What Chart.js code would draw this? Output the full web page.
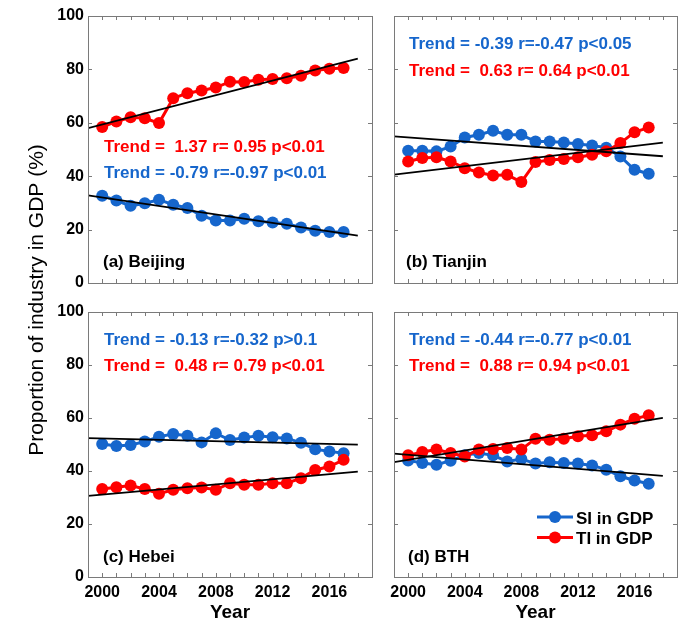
<!DOCTYPE html>
<html>
<head>
<meta charset="utf-8">
<script src="https://cdn.jsdelivr.net/npm/chart.js@4.4.1/dist/chart.umd.min.js"></script>
<style>
  html, body { margin: 0; padding: 0; background: #fff; }
  #wrap { position: relative; width: 684px; height: 621px; }
  #wrap canvas { position: absolute; left: 0; top: 0; }
</style>
</head>
<body>
<div id="wrap">
  <canvas id="pa" width="684" height="621"></canvas>
  <canvas id="pb" width="684" height="621"></canvas>
  <canvas id="pc" width="684" height="621"></canvas>
  <canvas id="pd" width="684" height="621"></canvas>
</div>
<script>
// Shares of secondary (SI) and tertiary (TI) industry in GDP, 2000-2017
const years = [2000, 2001, 2002, 2003, 2004, 2005, 2006, 2007, 2008,
               2009, 2010, 2011, 2012, 2013, 2014, 2015, 2016, 2017];

const beijingSI = [32.7, 30.9, 28.9, 29.9, 31.2, 29.3, 28.1, 25.2, 23.4, 23.4, 24.1, 23.1, 22.7, 22.2, 20.8, 19.6, 19.1, 19.1];
const beijingTI = [58.4, 60.5, 62.1, 61.7, 59.9, 69.2, 71.1, 72.1, 73.2, 75.4, 75.3, 76.1, 76.4, 76.7, 77.6, 79.6, 80.2, 80.5];

const tianjinSI = [49.5, 49.5, 49.3, 51.1, 54.5, 55.5, 57.0, 55.5, 55.5, 53.0, 53.0, 52.6, 52.1, 51.5, 50.7, 47.4, 42.4, 40.9];
const tianjinTI = [45.5, 46.8, 47.1, 45.5, 43.0, 41.4, 40.3, 40.5, 37.8, 45.3, 46.1, 46.4, 47.1, 48.0, 49.3, 52.4, 56.5, 58.2];

const hebeiSI = [50.2, 49.4, 49.8, 51.1, 52.9, 54.0, 53.3, 50.8, 54.2, 51.7, 52.6, 53.3, 52.7, 52.3, 50.7, 48.2, 47.4, 46.7];
const hebeiTI = [33.2, 33.9, 34.5, 33.2, 31.4, 32.9, 33.5, 33.8, 32.9, 35.4, 34.8, 34.8, 35.4, 35.4, 37.3, 40.4, 41.7, 44.2];

const bthSI = [44.0, 43.0, 42.4, 43.9, 45.9, 46.8, 45.9, 43.6, 44.5, 42.8, 43.3, 43.0, 42.8, 42.1, 40.5, 38.0, 36.4, 35.2];
const bthTI = [45.9, 47.2, 48.1, 46.8, 45.5, 48.1, 48.3, 48.7, 48.1, 52.2, 51.8, 52.2, 53.1, 53.5, 55.0, 57.5, 59.7, 61.0];

// Linear trend statistics: [slope per year, r, p-text, fitted value at 2000]
const beijingTrendSI = [-0.79, -0.97, 'p<0.01', 32.0];
const beijingTrendTI = [ 1.37,  0.95, 'p<0.01', 59.4];
const tianjinTrendSI = [-0.39, -0.47, 'p<0.05', 54.5];
const tianjinTrendTI = [ 0.63,  0.64, 'p<0.01', 41.2];
const hebeiTrendSI   = [-0.13, -0.32, 'p>0.1',  52.3];
const hebeiTrendTI   = [ 0.48,  0.79, 'p<0.01', 31.1];
const bthTrendSI     = [-0.44, -0.77, 'p<0.01', 46.1];
const bthTrendTI     = [ 0.88,  0.94, 'p<0.01', 44.2];

const xLabelYears = [2000, 2004, 2008, 2012, 2016];
const xMinorYears = [2000, 2001, 2002, 2003, 2004, 2005, 2006, 2007, 2008, 2009,
                     2010, 2011, 2012, 2013, 2014, 2015, 2016, 2017, 2018];
const yTicks = [0, 20, 40, 60, 80, 100];

const seriesNames = ['SI in GDP', 'TI in GDP'];
const yTitle = 'Proportion of industry in GDP (%)';
const xTitle = 'Year';

const BLUE = 'rgb(22,102,204)';
const RED = 'rgb(255,0,0)';
const FRAME = '#7a7a7a';
const FONT = "'Liberation Sans', Arial, Helvetica, sans-serif";

Chart.defaults.font.family = FONT;
Chart.defaults.color = '#000';

function num(v) {
  return v < 0 ? v.toFixed(2) : ' ' + v.toFixed(2);
}
function trendText(t) {
  return 'Trend = ' + num(t[0]) + ' r=' + num(t[1]) + ' ' + t[2];
}
// straight fitted line across the axis span
function trendLine(t) {
  return [1999, 2018].map(x => ({ x: x, y: t[3] + t[0] * (x - 2000) }));
}

// frame + inward tick marks on all four sides
const framePlugin = {
  id: 'frame',
  afterDraw(chart) {
    const { ctx, chartArea: a, scales } = chart;
    ctx.save();
    ctx.strokeStyle = FRAME;
    ctx.lineWidth = 1;
    ctx.strokeRect(Math.round(a.left) + 0.5, Math.round(a.top) + 0.5,
                   Math.round(a.right - a.left), Math.round(a.bottom - a.top));
    ctx.beginPath();
    const tl = 4;
    xMinorYears.forEach(v => {
      const px = Math.round(scales.x.getPixelForValue(v)) + 0.5;
      ctx.moveTo(px, a.bottom); ctx.lineTo(px, a.bottom - tl);
      ctx.moveTo(px, a.top); ctx.lineTo(px, a.top + tl);
    });
    yTicks.slice(1, -1).forEach(v => {
      const py = Math.round(scales.y.getPixelForValue(v)) + 0.5;
      ctx.moveTo(a.left, py); ctx.lineTo(a.left + tl, py);
      ctx.moveTo(a.right, py); ctx.lineTo(a.right - tl, py);
    });
    ctx.stroke();
    ctx.restore();
  }
};

// annotations, panel caption, legend and shared y title
const textPlugin = {
  id: 'panelText',
  afterDraw(chart, args, opts) {
    const { ctx } = chart;
    ctx.save();
    ctx.textBaseline = 'alphabetic';
    ctx.textAlign = 'left';
    (opts.items || []).forEach(it => {
      ctx.font = (it.weight || 'bold') + ' ' + (it.size || 17) + 'px ' + FONT;
      ctx.fillStyle = it.color || '#000';
      ctx.fillText(it.text, it.x, it.y);
    });
    if (opts.legend) {
      const L = opts.legend;
      [2, 3].forEach((di, k) => {
        const ds = chart.data.datasets[di];
        const y = L.y + k * L.gap;
        ctx.strokeStyle = ds.borderColor;
        ctx.lineWidth = 3;
        ctx.beginPath();
        ctx.moveTo(L.x, y); ctx.lineTo(L.x + L.len, y);
        ctx.stroke();
        ctx.fillStyle = ds.borderColor;
        ctx.beginPath();
        ctx.arc(L.x + L.len / 2, y, 6, 0, Math.PI * 2);
        ctx.fill();
        ctx.fillStyle = '#000';
        ctx.font = 'bold 17px ' + FONT;
        ctx.fillText(ds.label, L.x + L.len + 3, y + 6.5);
      });
    }
    if (opts.yTitle) {
      ctx.translate(opts.yTitle.x, opts.yTitle.y);
      ctx.rotate(-Math.PI / 2);
      ctx.textAlign = 'center';
      ctx.textBaseline = 'middle';
      ctx.font = '21px ' + FONT;
      ctx.fillStyle = '#000';
      ctx.fillText(yTitle, 0, 0);
    }
    ctx.restore();
  }
};

function makePanel(id, box, si, ti, tSI, tTI, showX, showY, texts, extra) {
  const W = 684, H = 621;
  const yW = showY ? 40 : 0;
  const xH = showX ? 44 : 0;
  const points = arr => years.map((y, i) => ({ x: y, y: arr[i] }));
  new Chart(document.getElementById(id), {
    type: 'line',
    data: {
      datasets: [
        { label: 'trend SI', data: trendLine(tSI), borderColor: '#000', borderWidth: 1.8, pointRadius: 0, order: 0 },
        { label: 'trend TI', data: trendLine(tTI), borderColor: '#000', borderWidth: 1.8, pointRadius: 0, order: 0 },
        { label: seriesNames[0], data: points(si), borderColor: BLUE, backgroundColor: BLUE,
          pointBackgroundColor: BLUE, borderWidth: 3, pointRadius: 6, pointBorderWidth: 0, order: 2 },
        { label: seriesNames[1], data: points(ti), borderColor: RED, backgroundColor: RED,
          pointBackgroundColor: RED, borderWidth: 3, pointRadius: 6, pointBorderWidth: 0, order: 1 }
      ]
    },
    options: {
      responsive: false,
      animation: false,
      events: [],
      devicePixelRatio: 1,
      layout: {
        padding: { left: box.l - yW, top: box.t, right: W - box.r, bottom: H - box.b - xH }
      },
      plugins: {
        legend: { display: false },
        tooltip: { enabled: false },
        panelText: Object.assign({ items: texts }, extra || {})
      },
      scales: {
        x: {
          type: 'linear', min: 1999, max: 2019,
          grid: { display: false, drawTicks: false }, border: { display: false },
          afterBuildTicks: s => { s.ticks = xLabelYears.map(v => ({ value: v })); },
          afterFit: s => { s.height = xH; s.paddingLeft = 0; s.paddingRight = 0; },
          ticks: {
            display: showX, autoSkip: false, maxRotation: 0, padding: 6, color: '#000',
            font: { size: 16, weight: 'bold' },
            callback: v => String(v)
          },
          title: { display: showX, text: xTitle, color: '#000', padding: { top: 0, bottom: -3 },
                   font: { size: 19, weight: 'bold' } }
        },
        y: {
          type: 'linear', min: 0, max: 100,
          grid: { display: false, drawTicks: false }, border: { display: false },
          afterBuildTicks: s => { s.ticks = yTicks.map(v => ({ value: v })); },
          afterFit: s => { s.width = yW; s.paddingTop = 0; s.paddingBottom = 0; },
          ticks: {
            display: showY, padding: 4, color: '#000',
            font: { size: 16, weight: 'bold' }
          }
        }
      }
    },
    plugins: [framePlugin, textPlugin]
  });
}

const boxA = { l: 88, r: 372, t: 16, b: 283 };
const boxB = { l: 394, r: 677, t: 16, b: 283 };
const boxC = { l: 88, r: 372, t: 312, b: 577 };
const boxD = { l: 394, r: 677, t: 312, b: 577 };

makePanel('pa', boxA, beijingSI, beijingTI, beijingTrendSI, beijingTrendTI, false, true, [
  { text: trendText(beijingTrendTI), x: 104, y: 152, color: RED },
  { text: trendText(beijingTrendSI), x: 104, y: 178, color: BLUE },
  { text: '(a) Beijing', x: 103, y: 267 }
], { yTitle: { x: 37, y: 300 } });

makePanel('pb', boxB, tianjinSI, tianjinTI, tianjinTrendSI, tianjinTrendTI, false, false, [
  { text: trendText(tianjinTrendSI), x: 409, y: 49, color: BLUE },
  { text: trendText(tianjinTrendTI), x: 409, y: 76, color: RED },
  { text: '(b) Tianjin', x: 406, y: 267 }
]);

makePanel('pc', boxC, hebeiSI, hebeiTI, hebeiTrendSI, hebeiTrendTI, true, true, [
  { text: trendText(hebeiTrendSI), x: 104, y: 345, color: BLUE },
  { text: trendText(hebeiTrendTI), x: 104, y: 371, color: RED },
  { text: '(c) Hebei', x: 103, y: 562 }
]);

makePanel('pd', boxD, bthSI, bthTI, bthTrendSI, bthTrendTI, true, false, [
  { text: trendText(bthTrendSI), x: 409, y: 345, color: BLUE },
  { text: trendText(bthTrendTI), x: 409, y: 371, color: RED },
  { text: '(d) BTH', x: 408, y: 562 }
], { legend: { x: 537, y: 517, len: 36, gap: 20.5 } });
</script>
</body>
</html>
